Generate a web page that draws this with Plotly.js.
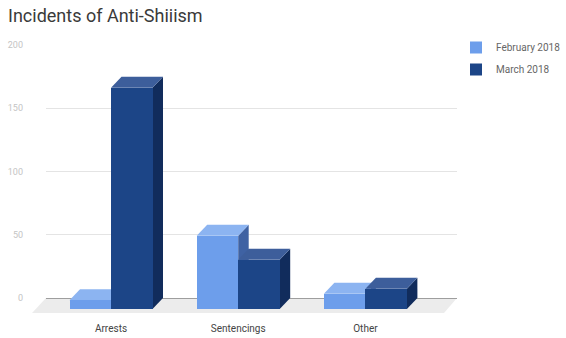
<!DOCTYPE html>
<html>
<head>
<meta charset="utf-8">
<script src="https://cdn.plot.ly/plotly-3.0.1.min.js"></script>
<style>
  html, body { margin: 0; padding: 0; background: #ffffff; }
  #chart { width: 566px; height: 338px; }
</style>
</head>
<body>
<div id="chart"></div>
<script>
// Incidents by category, two reporting months
const categories = ['Arrests', 'Sentencings', 'Other'];
const feb2018 = [7, 58, 12];
const mar2018 = [175, 39, 16];
const seriesNames = ['February 2018', 'March 2018'];
const yTickVals = [0, 50, 100, 150, 200];
const yTickText = ['0', '50', '100', '150', '200'];

// Page and plot-area geometry (pixels)
const W = 566, H = 338;
const PL = 46, PR = 457, PT = 45, PB = 316;
const backZeroPx = 298;      // baseline on the back wall
const frontZeroPx = 309;     // baseline on the front face of the bars
const depthX = 10.5;         // horizontal extrusion of each bar
const depthY = frontZeroPx - backZeroPx;
const firstCenterPx = 111, categoryStepPx = 127.2, barWidthPx = 41.5;
const yMax = 200;

// Derived scales
const pxPerUnit = (backZeroPx - PT) / yMax;
const backRange = [-(PB - backZeroPx) / pxPerUnit, yMax];
const frontRange = [-(PB - frontZeroPx) / pxPerUnit, (frontZeroPx - PT) / pxPerUnit];
const xRange = [-(firstCenterPx - PL) / categoryStepPx, (PR - firstCenterPx) / categoryStepPx];
const barW = barWidthPx / categoryStepPx;
const dxU = depthX / categoryStepPx;
const dyU = depthY / pxPerUnit;

const xIdx = categories.map((_, i) => i);

const palette = [
  { front: '#6d9eeb', top: '#8cb4f1', side: '#3f62a3' },
  { front: '#1c4587', top: '#3d5e9b', side: '#112c5c' }
];
const seriesValues = [feb2018, mar2018];
const offsets = [-barW, 0];

const traces = seriesValues.map((vals, s) => ({
  type: 'bar',
  name: seriesNames[s],
  x: xIdx,
  y: vals,
  width: barW,
  offset: offsets[s],
  marker: { color: palette[s].front, line: { width: 0 } },
  legendgroup: 'g' + s,
  hovertemplate: '%{y}<extra>' + seriesNames[s] + '</extra>'
}));

// empty trace that carries the back-wall value axis
traces.push({ type: 'scatter', x: [], y: [], yaxis: 'y2', showlegend: false, hoverinfo: 'skip' });

// Extruded faces (top and right side) of every bar
const shapes = [];
seriesValues.forEach((vals, s) => {
  vals.forEach((v, i) => {
    const xl = i + offsets[s], xr = xl + barW;
    shapes.push({
      type: 'path', xref: 'x', yref: 'y', layer: 'between',
      path: `M${xr},0 L${xr + dxU},${dyU} L${xr + dxU},${v + dyU} L${xr},${v} Z`,
      fillcolor: palette[s].side, line: { width: 0 }
    });
    shapes.push({
      type: 'path', xref: 'x', yref: 'y', layer: 'between',
      path: `M${xl},${v} L${xr},${v} L${xr + dxU},${v + dyU} L${xl + dxU},${v + dyU} Z`,
      fillcolor: palette[s].top, line: { width: 0 }
    });
  });
});

// Floor under the bars
const toPx = x => (x - PL) / (PR - PL);
const toPy = y => (PB - y) / (PB - PT);
shapes.unshift({
  type: 'path', xref: 'paper', yref: 'paper', layer: 'below',
  path: `M${toPx(PL)},${toPy(backZeroPx)} L${toPx(PR)},${toPy(backZeroPx)} ` +
        `L${toPx(PR - 13)},${toPy(backZeroPx + 15)} L${toPx(PL - 14)},${toPy(backZeroPx + 15)} Z`,
  fillcolor: '#ececec', line: { width: 0 }
});

const layout = {
  width: W, height: H,
  margin: { l: PL, r: W - PR, t: PT, b: H - PB, pad: 0, autoexpand: false },
  paper_bgcolor: '#ffffff',
  plot_bgcolor: 'rgba(0,0,0,0)',
  font: { family: 'Roboto, Arial, sans-serif', color: '#444444' },
  title: {
    text: 'Incidents of Anti-Shiiism',
    x: 8 / W, xref: 'container', xanchor: 'left',
    y: 1 - 16 / H, yref: 'container', yanchor: 'middle',
    font: { family: 'Roboto, Arial, sans-serif', size: 18, color: '#3a3a3a' }
  },
  showlegend: true,
  legend: {
    xref: 'container', yref: 'container',
    x: 456 / W, y: 1 - 33 / H, xanchor: 'left', yanchor: 'top',
    traceorder: 'grouped', tracegroupgap: 3,
    font: { size: 10, color: '#666666' },
    bgcolor: 'rgba(0,0,0,0)', itemclick: false, itemdoubleclick: false
  },
  xaxis: {
    range: xRange, showgrid: false, zeroline: false, showline: false,
    tickmode: 'array', tickvals: xIdx, ticktext: categories, ticks: '',
    tickfont: { size: 10, color: '#444444' }, ticklabelstandoff: 5,
    fixedrange: true
  },
  yaxis: {
    range: frontRange, visible: false, fixedrange: true
  },
  yaxis2: {
    overlaying: 'y', anchor: 'x', side: 'left',
    range: backRange,
    tickmode: 'array', tickvals: yTickVals, ticktext: yTickText,
    showgrid: true, gridcolor: '#e4e4e4', gridwidth: 1,
    zeroline: true, zerolinecolor: '#9e9e9e', zerolinewidth: 1,
    showline: false, ticks: '',
    tickfont: { size: 9, color: '#c4c4c4' }, ticklabelstandoff: 22,
    fixedrange: true
  },
  shapes: shapes,
  bargap: 0
};

Plotly.newPlot('chart', traces, layout, { displayModeBar: false, staticPlot: true });
</script>
</body>
</html>
